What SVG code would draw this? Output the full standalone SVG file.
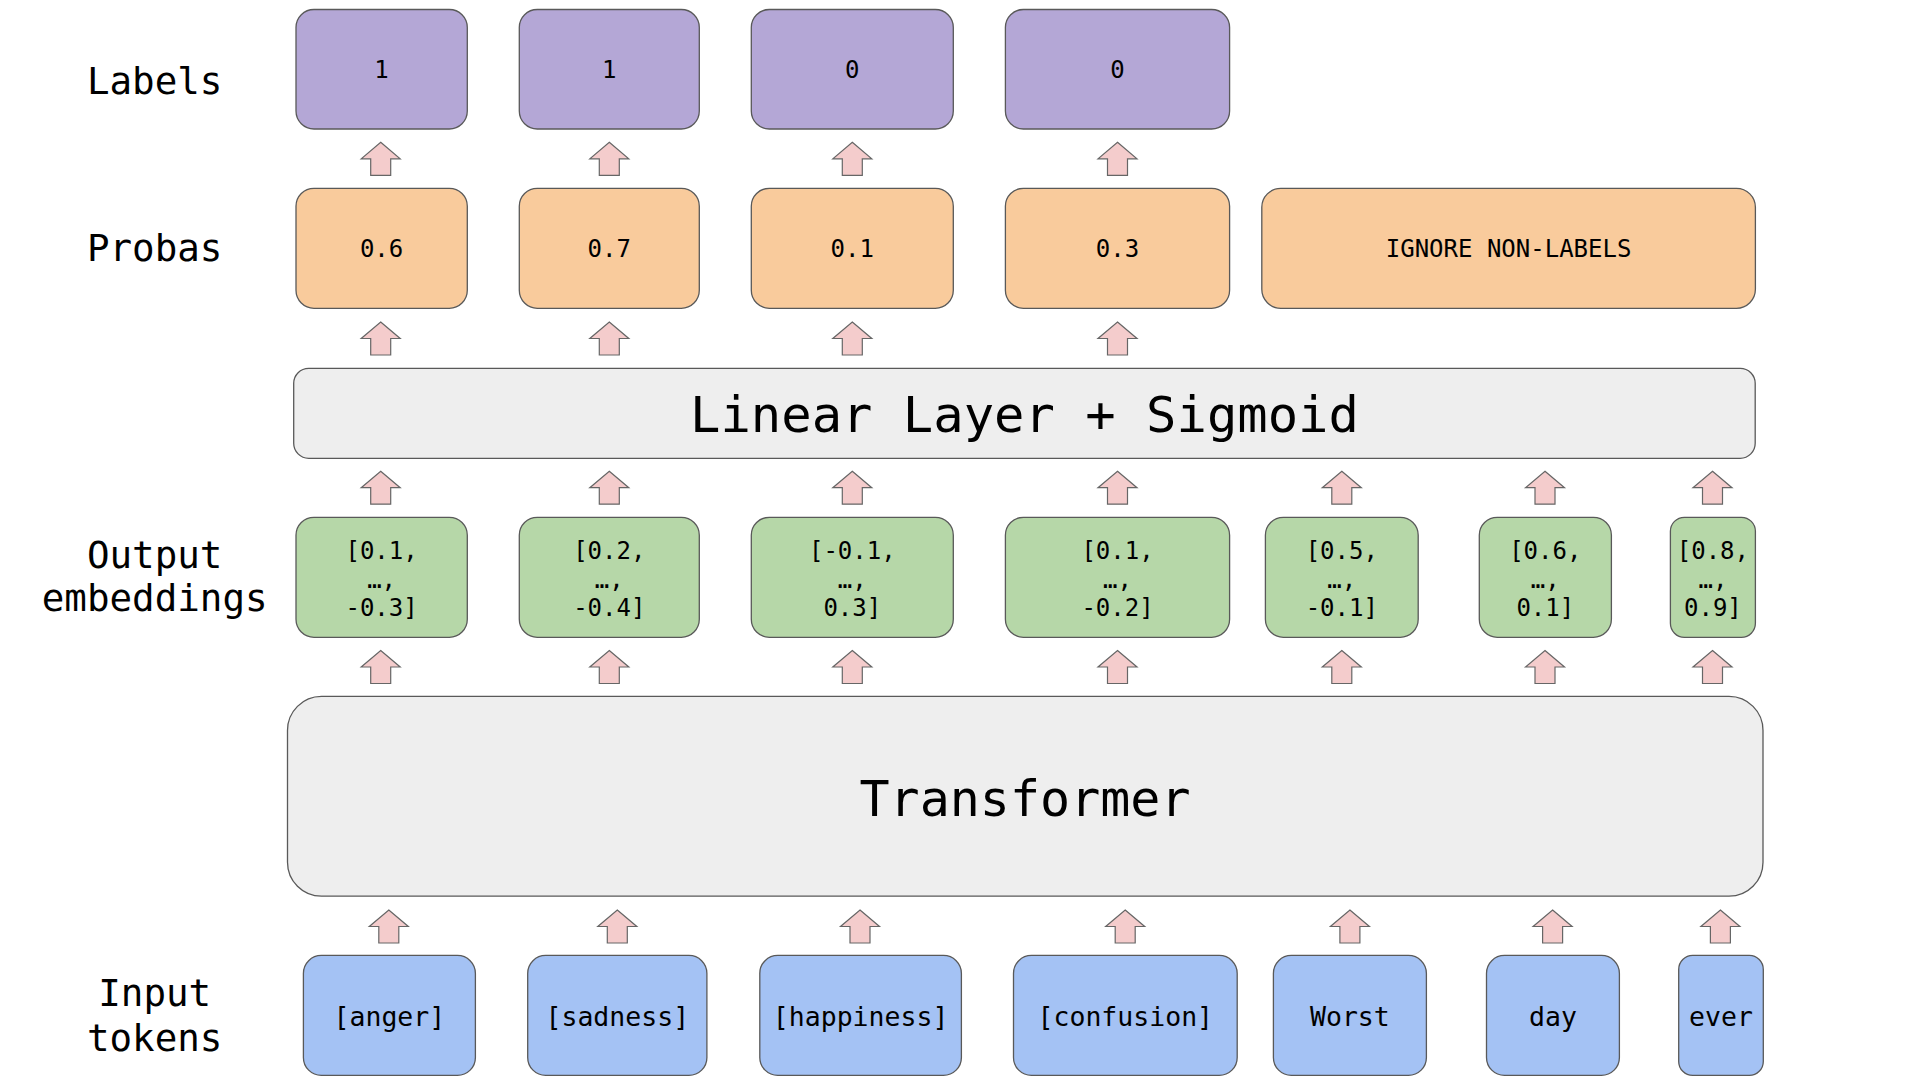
<svg xmlns="http://www.w3.org/2000/svg" xmlns:xlink="http://www.w3.org/1999/xlink" width="1918" height="1080" viewBox="0 0 1918 1080">
<style>
  text { font-family: "DejaVu Sans Mono", "Liberation Mono", monospace; fill: #000; text-anchor: middle; }
  .side { font-size: 37.5px; }
  .val { font-size: 24px; }
  .tok { font-size: 26.5px; }
  .big { font-size: 50.5px; }
  .big2 { font-size: 50px; }
  .box { stroke: #595959; stroke-width: 1.3; }
  .lab { fill: #b4a7d6; }
  .prob { fill: #f9cb9c; }
  .emb { fill: #b6d7a8; }
  .inp { fill: #a4c2f4; }
  .gray { fill: #eeeeee; }
  .arrow { fill: #f4cccc; stroke: #666666; stroke-width: 1.2; stroke-linejoin: miter; }
</style>
<defs>
  <path id="up" d="M0,0 L19.5,16.5 L10,16.5 L10,33 L-10,33 L-10,16.5 L-19.5,16.5 Z"/>
</defs>
<rect width="1918" height="1080" fill="#ffffff"/>

<g id="side-labels">
  <text class="side" x="154.7" y="94.3">Labels</text>
  <text class="side" x="154.7" y="261">Probas</text>
  <text class="side" x="154.7" y="567.7">Output</text>
  <text class="side" x="154.7" y="611">embeddings</text>
  <text class="side" x="154.7" y="1006">Input</text>
  <text class="side" x="154.7" y="1050.5">tokens</text>
</g>

<g id="label-1"><rect class="box lab" x="296" y="9.5" width="171.3" height="119.5" rx="18"/><text class="val" x="381.6" y="78">1</text></g>
<g id="label-2"><rect class="box lab" x="519.3" y="9.5" width="180" height="119.5" rx="18"/><text class="val" x="609.3" y="78">1</text></g>
<g id="label-3"><rect class="box lab" x="751.3" y="9.5" width="202" height="119.5" rx="18"/><text class="val" x="852.3" y="78">0</text></g>
<g id="label-4"><rect class="box lab" x="1005.4" y="9.5" width="224.2" height="119.5" rx="18"/><text class="val" x="1117.5" y="78">0</text></g>

<g id="proba-1"><rect class="box prob" x="296" y="188.3" width="171.3" height="120" rx="18"/><text class="val" x="381.6" y="257.2">0.6</text></g>
<g id="proba-2"><rect class="box prob" x="519.3" y="188.3" width="180" height="120" rx="18"/><text class="val" x="609.3" y="257.2">0.7</text></g>
<g id="proba-3"><rect class="box prob" x="751.3" y="188.3" width="202" height="120" rx="18"/><text class="val" x="852.3" y="257.2">0.1</text></g>
<g id="proba-4"><rect class="box prob" x="1005.4" y="188.3" width="224.2" height="120" rx="18"/><text class="val" x="1117.5" y="257.2">0.3</text></g>
<g id="ignore"><rect class="box prob" x="1261.8" y="188.3" width="493.6" height="120" rx="19"/><text class="val" x="1508.6" y="257.2">IGNORE NON-LABELS</text></g>

<g id="linear"><rect class="box gray" x="293.7" y="368.3" width="1461.5" height="90" rx="15"/><text class="big" x="1024.5" y="431.5">Linear Layer + Sigmoid</text></g>

<g id="emb-1"><rect class="box emb" x="296" y="517.3" width="171.3" height="120" rx="18"/>
  <text class="val" x="381.6" y="558.5">[0.1,</text><text class="val" x="381.6" y="587.5">…,</text><text class="val" x="381.6" y="616">-0.3]</text></g>
<g id="emb-2"><rect class="box emb" x="519.3" y="517.3" width="180" height="120" rx="18"/>
  <text class="val" x="609.3" y="558.5">[0.2,</text><text class="val" x="609.3" y="587.5">…,</text><text class="val" x="609.3" y="616">-0.4]</text></g>
<g id="emb-3"><rect class="box emb" x="751.3" y="517.3" width="202" height="120" rx="18"/>
  <text class="val" x="852.3" y="558.5">[-0.1,</text><text class="val" x="852.3" y="587.5">…,</text><text class="val" x="852.3" y="616">0.3]</text></g>
<g id="emb-4"><rect class="box emb" x="1005.4" y="517.3" width="224.2" height="120" rx="18"/>
  <text class="val" x="1117.5" y="558.5">[0.1,</text><text class="val" x="1117.5" y="587.5">…,</text><text class="val" x="1117.5" y="616">-0.2]</text></g>
<g id="emb-5"><rect class="box emb" x="1265.4" y="517.3" width="152.8" height="120" rx="18"/>
  <text class="val" x="1341.8" y="558.5">[0.5,</text><text class="val" x="1341.8" y="587.5">…,</text><text class="val" x="1341.8" y="616">-0.1]</text></g>
<g id="emb-6"><rect class="box emb" x="1479.3" y="517.3" width="132.1" height="120" rx="18"/>
  <text class="val" x="1545.3" y="558.5">[0.6,</text><text class="val" x="1545.3" y="587.5">…,</text><text class="val" x="1545.3" y="616">0.1]</text></g>
<g id="emb-7"><rect class="box emb" x="1670.4" y="517.3" width="85" height="120" rx="14"/>
  <text class="val" x="1712.9" y="558.5">[0.8,</text><text class="val" x="1712.9" y="587.5">…,</text><text class="val" x="1712.9" y="616">0.9]</text></g>

<g id="transformer"><rect class="box gray" x="287.5" y="696.4" width="1475.5" height="199.8" rx="34"/><text class="big2" x="1025" y="815.6">Transformer</text></g>

<g id="tok-1"><rect class="box inp" x="303.4" y="955.4" width="172" height="120" rx="18"/><text class="tok" x="389.4" y="1026">[anger]</text></g>
<g id="tok-2"><rect class="box inp" x="527.7" y="955.4" width="179.2" height="120" rx="18"/><text class="tok" x="617.3" y="1026">[sadness]</text></g>
<g id="tok-3"><rect class="box inp" x="759.8" y="955.4" width="201.6" height="120" rx="18"/><text class="tok" x="860.6" y="1026">[happiness]</text></g>
<g id="tok-4"><rect class="box inp" x="1013.5" y="955.4" width="223.7" height="120" rx="18"/><text class="tok" x="1125.3" y="1026">[confusion]</text></g>
<g id="tok-5"><rect class="box inp" x="1273.4" y="955.4" width="153" height="120" rx="18"/><text class="tok" x="1349.9" y="1026">Worst</text></g>
<g id="tok-6"><rect class="box inp" x="1486.5" y="955.4" width="132.9" height="120" rx="18"/><text class="tok" x="1553" y="1026">day</text></g>
<g id="tok-7"><rect class="box inp" x="1678.7" y="955.4" width="84.6" height="120" rx="14"/><text class="tok" x="1721" y="1026">ever</text></g>

<g id="connectors">
  <use xlink:href="#up" class="arrow" x="380.7" y="142.3"/>
  <use xlink:href="#up" class="arrow" x="609.3" y="142.3"/>
  <use xlink:href="#up" class="arrow" x="852.3" y="142.3"/>
  <use xlink:href="#up" class="arrow" x="1117.5" y="142.3"/>

  <use xlink:href="#up" class="arrow" x="380.7" y="322"/>
  <use xlink:href="#up" class="arrow" x="609.3" y="322"/>
  <use xlink:href="#up" class="arrow" x="852.3" y="322"/>
  <use xlink:href="#up" class="arrow" x="1117.5" y="322"/>

  <use xlink:href="#up" class="arrow" x="380.7" y="471.2"/>
  <use xlink:href="#up" class="arrow" x="609.3" y="471.2"/>
  <use xlink:href="#up" class="arrow" x="852.3" y="471.2"/>
  <use xlink:href="#up" class="arrow" x="1117.5" y="471.2"/>
  <use xlink:href="#up" class="arrow" x="1341.8" y="471.2"/>
  <use xlink:href="#up" class="arrow" x="1545" y="471.2"/>
  <use xlink:href="#up" class="arrow" x="1712.5" y="471.2"/>

  <use xlink:href="#up" class="arrow" x="380.7" y="650.5"/>
  <use xlink:href="#up" class="arrow" x="609.3" y="650.5"/>
  <use xlink:href="#up" class="arrow" x="852.3" y="650.5"/>
  <use xlink:href="#up" class="arrow" x="1117.5" y="650.5"/>
  <use xlink:href="#up" class="arrow" x="1341.8" y="650.5"/>
  <use xlink:href="#up" class="arrow" x="1545" y="650.5"/>
  <use xlink:href="#up" class="arrow" x="1712.5" y="650.5"/>

  <use xlink:href="#up" class="arrow" x="388.8" y="910"/>
  <use xlink:href="#up" class="arrow" x="617.3" y="910"/>
  <use xlink:href="#up" class="arrow" x="860" y="910"/>
  <use xlink:href="#up" class="arrow" x="1125.2" y="910"/>
  <use xlink:href="#up" class="arrow" x="1349.9" y="910"/>
  <use xlink:href="#up" class="arrow" x="1552.6" y="910"/>
  <use xlink:href="#up" class="arrow" x="1720.4" y="910"/>
</g>
</svg>
